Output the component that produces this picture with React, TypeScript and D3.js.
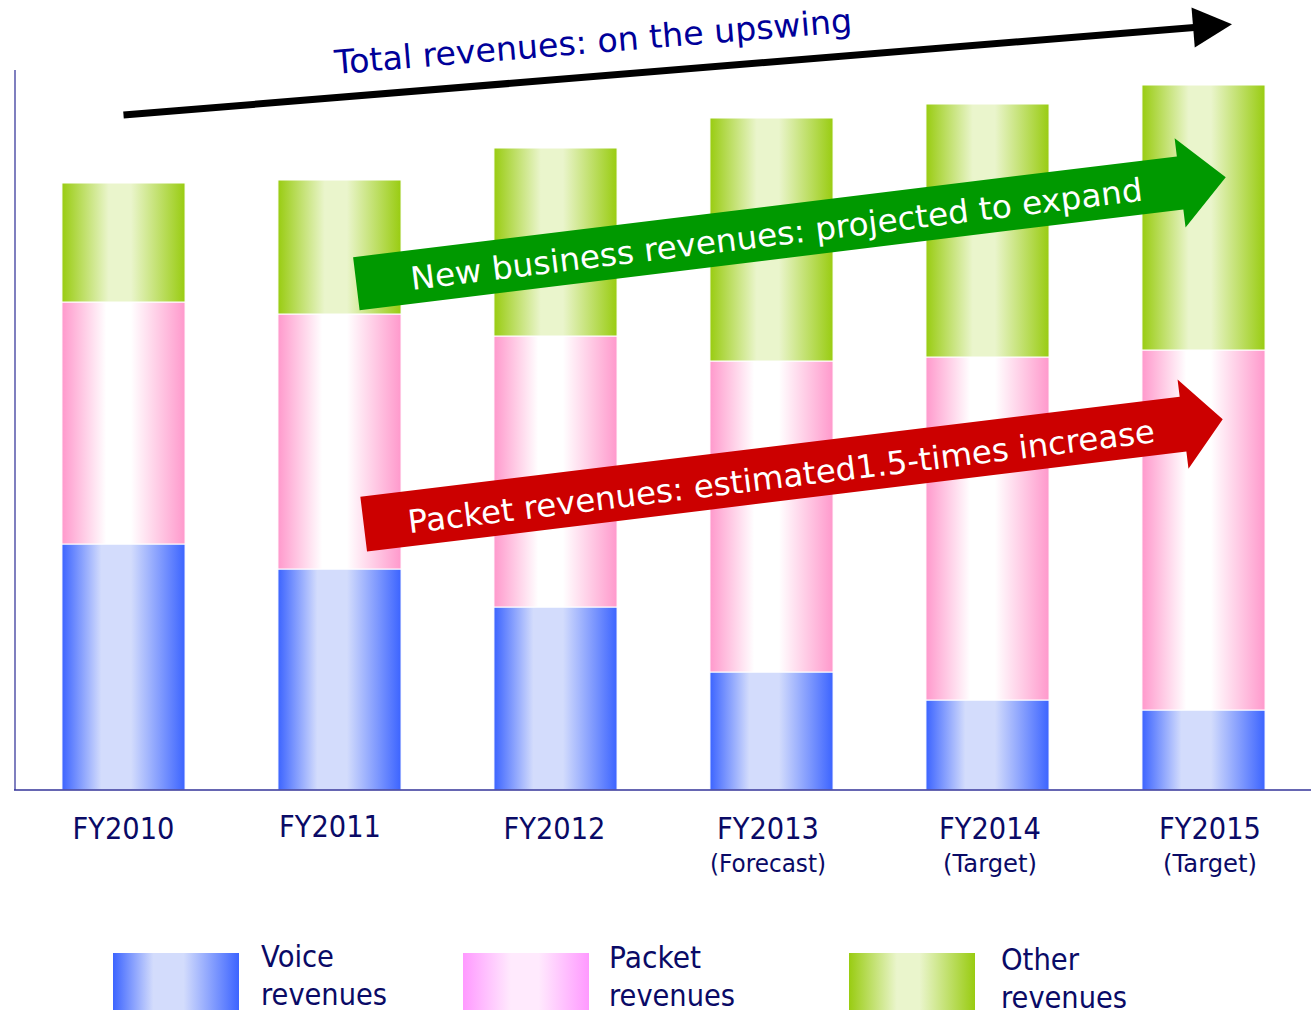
import React from 'react'
import * as d3 from 'd3'

// revenue breakdown (arbitrary units, no y scale shown)
const years = ['FY2010', 'FY2011', 'FY2012', 'FY2013', 'FY2014', 'FY2015']
const yearNotes = ['', '', '', '(Forecast)', '(Target)', '(Target)']
const voice = [246, 221, 183, 118, 90, 80]
const packet = [242, 255, 271, 311, 343, 360]
const other = [119, 134, 188, 243, 253, 265]

const seriesKeys = ['voice', 'packet', 'other']
const legendLines = [['Voice', 'revenues'], ['Packet', 'revenues'], ['Other', 'revenues']]

// annotation arrows, anchored in [bar index, value] units
const callouts = [
  'Total revenues: on the upswing',
  'New business revenues: projected to expand',
  'Packet revenues: estimated1.5-times increase',
]
const totalArrow = [[0, 675], [5.132, 765.7]]
const otherArrow = [[1.078, 506.3], [5.103, 612.7]]
const packetArrow = [[1.112, 265.8], [5.089, 370.7]]

const W = 1312
const H = 1016
const FONT = '"DejaVu Sans", Verdana, sans-serif'
const NAVY = '#0a0a66'

const rows = years.map((yr, i) => ({ year: yr, voice: voice[i], packet: packet[i], other: other[i] }))

const x = d3.scaleBand().domain(years).range([15.5, 1311.5]).paddingInner(0.43).paddingOuter(0.215)
const y = d3.scaleLinear().domain([0, 720]).range([790, 70])
const bw = x.bandwidth()
const xi = d3.scaleLinear()
  .domain([0, years.length - 1])
  .range([x(years[0]) + bw / 2, x(years[years.length - 1]) + bw / 2])

const stacked = d3.stack().keys(seriesKeys)(rows)

function frame(pts) {
  const x0 = xi(pts[0][0]), y0 = y(pts[0][1])
  const x1 = xi(pts[1][0]), y1 = y(pts[1][1])
  return {
    x0, y0,
    len: Math.hypot(x1 - x0, y1 - y0),
    angle: (Math.atan2(y1 - y0, x1 - x0) * 180) / Math.PI,
  }
}

function blockArrow(len, h, hl, hw) {
  const p = d3.path()
  p.moveTo(0, -h)
  p.lineTo(len - hl, -h)
  p.lineTo(len - hl, -hw)
  p.lineTo(len, 0)
  p.lineTo(len - hl, hw)
  p.lineTo(len - hl, h)
  p.lineTo(0, h)
  p.closePath()
  return p.toString()
}

const Grad = ({ id, edge, mid, a = 0.33, b = 0.56 }) => (
  <linearGradient id={id} x1="0" x2="1" y1="0" y2="0">
    <stop offset="0" stopColor={edge} />
    <stop offset={a} stopColor={mid} />
    <stop offset={b} stopColor={mid} />
    <stop offset="1" stopColor={edge} />
  </linearGradient>
)

// label layout quirks of the original slide
const tickShift = [0, -9.5, -1, -3.5, 2.5, 6.5]
const tickDy = [0, -2, 0, 0, 0, 0]
const tickWidths = { main: 102, '(Forecast)': 116, '(Target)': 94 }
const legendWidths = { Voice: 73, Packet: 92, Other: 78, revenues: 126 }
const legendX = [113, 463, 849]
const legendTextX = [261, 609, 1001]
const legendBase = [967, 968, 970]

export default function App() {
  const tot = frame(totalArrow)
  const grn = frame(otherArrow)
  const red = frame(packetArrow)

  return (
    <svg width={W} height={H} style={{ position: 'absolute', left: 0, top: 0, background: '#fff' }} fontFamily={FONT}>
      <defs>
        <Grad id="g-voice" edge="#3c64ff" mid="#d3dcfc" a={0.32} b={0.56} />
        <Grad id="g-packet" edge="#ff99cc" mid="#ffffff" a={0.36} b={0.56} />
        <Grad id="g-other" edge="#99cc11" mid="#eaf5cc" a={0.38} b={0.56} />
        <Grad id="g-packet-legend" edge="#ff99ff" mid="#ffeafd" a={0.38} b={0.6} />
      </defs>

      {/* bars */}
      {stacked.map((s) => (
        <g key={s.key} fill={`url(#g-${s.key})`} stroke="#fff" strokeWidth={1}>
          {s.map((d) => (
            <rect key={d.data.year} x={x(d.data.year)} width={bw} y={y(d[1])} height={y(d[0]) - y(d[1])} />
          ))}
        </g>
      ))}

      {/* axes */}
      <line x1={15} x2={15} y1={y(720)} y2={y(0)} stroke="#5555aa" strokeWidth={1.5} />
      <line x1={14} x2={1311} y1={y(0)} y2={y(0)} stroke="#333399" strokeWidth={1.5} />

      {/* tick labels */}
      {years.map((yr, i) => {
        const cx = x(yr) + bw / 2 + tickShift[i]
        return (
          <g key={yr} fill={NAVY} textAnchor="middle">
            <text x={cx} y={839 + tickDy[i]} fontSize={30} textLength={tickWidths.main} lengthAdjust="spacingAndGlyphs">{yr}</text>
            {yearNotes[i] && (
              <text x={cx} y={872} fontSize={25} textLength={tickWidths[yearNotes[i]]} lengthAdjust="spacingAndGlyphs">{yearNotes[i]}</text>
            )}
          </g>
        )
      })}

      {/* total revenues arrow */}
      <g transform={`translate(${tot.x0},${tot.y0}) rotate(${tot.angle})`}>
        <line x1={0} x2={tot.len - 38} y1={0} y2={0} stroke="#000" strokeWidth={7} />
        <path d={`M${tot.len},0L${tot.len - 39},-20L${tot.len - 39},20Z`} fill="#000" />
        <text x={214.6} y={-23.5} fill="#000099" fontSize={33} textLength={519} lengthAdjust="spacingAndGlyphs">{callouts[0]}</text>
      </g>

      {/* new business arrow */}
      <g transform={`translate(${grn.x0},${grn.y0}) rotate(${grn.angle})`}>
        <path d={blockArrow(grn.len, 26.7, 46, 45)} fill="#009900" />
        <text x={54.5} y={13} fill="#fff" fontSize={32} textLength={737} lengthAdjust="spacingAndGlyphs">{callouts[1]}</text>
      </g>

      {/* packet arrow */}
      <g transform={`translate(${red.x0},${red.y0}) rotate(${red.angle})`}>
        <path d={blockArrow(red.len, 27.6, 40, 45)} fill="#cc0000" />
        <text x={44.2} y={14.6} fill="#fff" fontSize={32} textLength={752} lengthAdjust="spacingAndGlyphs">{callouts[2]}</text>
      </g>

      {/* legend */}
      {seriesKeys.map((k, i) => (
        <g key={k}>
          <rect x={legendX[i]} y={953} width={126} height={57} fill={k === 'packet' ? 'url(#g-packet-legend)' : `url(#g-${k})`} />
          {legendLines[i].map((t, j) => (
            <text key={j} x={legendTextX[i]} y={legendBase[i] + j * 38} fill={NAVY} fontSize={30} textLength={legendWidths[t]} lengthAdjust="spacingAndGlyphs">{t}</text>
          ))}
        </g>
      ))}
    </svg>
  )
}
